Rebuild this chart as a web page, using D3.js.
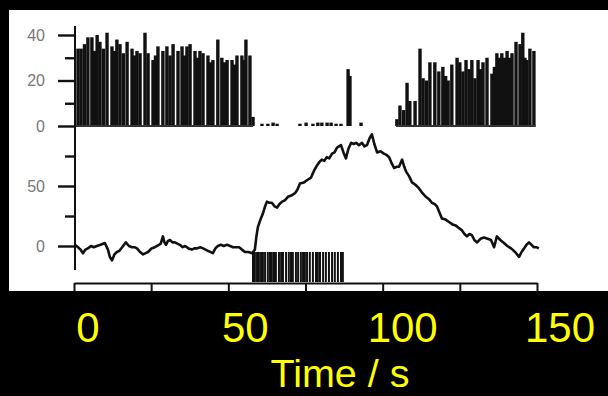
<!DOCTYPE html>
<html><head><meta charset="utf-8">
<script src="https://cdn.jsdelivr.net/npm/d3@7"></script>
<style>html,body{margin:0;padding:0;background:#000;}svg{display:block;}</style>
</head><body>
<script>
// ---- data ----
// top panel: burst bars [time s, height]
const burst1 = [[1.3,34],[2.3,34],[3.4,36],[4.5,39],[5.8,39],[6.7,33],[7.5,40],[8.4,37],[9.5,34],[10.7,41],[12.3,35],[13.1,33],[13.9,38],[14.9,36],[16.0,32],[17.2,37],[18.8,34],[19.6,31],[20.4,33],[21.4,32],[23.0,41],[24.0,32],[25.6,29],[26.4,31],[27.2,35],[28.8,33],[30.1,35],[31.1,31],[32.1,36],[33.7,33],[35.0,35],[35.8,31],[36.6,35],[37.6,36],[39.2,33],[40.0,30],[40.8,33],[41.8,32],[43.4,31],[44.2,28],[45.0,29],[46.6,38],[47.9,30],[48.8,28],[49.6,29],[51.2,29],[52.0,27],[52.8,31],[54.4,31],[55.1,29],[55.7,38],[57.0,31],[58.0,4]];
const burst2 = [[60.9,1],[62.8,1],[64.5,1.5],[65.8,1],[73.2,1],[75.2,1.5],[77.4,1],[79.0,1.5],[80.3,1.5],[82.0,1.5],[83.3,1.5],[84.9,1],[86.5,1],[88.8,25],[89.4,22],[93.0,1.5]];
const burst3 = [[104.6,3],[105.6,9],[106.8,7],[107.9,19],[108.8,11],[110.5,11],[112.1,34],[113.1,21],[114.2,20],[115.3,28],[116.9,28],[118.2,24],[119.5,26],[120.4,22],[121.2,20],[122.4,27],[124.1,30],[125.0,28],[126.0,24],[127.0,29],[128.0,25],[128.9,29],[129.9,21],[130.9,29],[131.7,25],[132.5,28],[133.8,30],[135.4,23],[136.2,26],[137.0,32],[137.8,30],[138.6,32],[139.5,30],[140.3,33],[141.1,30],[141.9,32],[143.2,37],[144.5,36],[145.4,41],[146.1,30],[146.7,29],[147.7,34],[149.0,33]];
// lower panel: trace [time s, value]
const trace = [[0.3,1],[1.3,-1],[2.1,-3],[2.9,-6],[3.7,-3],[4.5,-2],[5.5,0],[6.4,-1],[7.4,0],[8.6,1],[10.0,2.5],[11.0,-3],[11.6,-9],[12.3,-12],[13.1,-7],[13.9,-5],[14.7,-4],[15.6,-1],[16.2,1],[16.8,3],[17.8,0],[18.8,-1],[19.6,-1],[20.4,-2],[21.4,-5],[22.4,-7],[23.2,-6],[24.0,-5],[25.1,-2],[26.2,-1],[27.5,1],[28.1,2],[28.8,8],[29.3,3],[29.8,1],[30.4,4],[31.1,5],[31.9,3],[32.7,3],[33.5,2],[34.3,1],[35.2,-1],[36.0,0],[37.1,-2],[38.2,-3],[39.0,-2],[39.9,-2],[40.9,-1],[41.8,-2],[43.4,-4],[45.0,-6],[45.8,-2],[46.6,0],[47.6,1],[48.5,0],[49.6,1],[50.6,0],[51.5,-1],[52.4,-1],[53.5,-1],[54.4,-3],[55.4,-5],[56.5,-5],[57.7,-6],[58.6,-3],[59.1,8],[59.6,16],[60.4,22],[61.2,27],[61.9,33],[62.5,37],[63.3,36],[64.1,36],[65.0,33],[65.8,32],[66.6,35],[67.4,37],[68.3,38],[69.3,41],[70.4,42],[71.6,44],[72.4,47],[73.2,52],[74.5,53],[75.6,55],[76.8,57],[77.8,63],[78.7,67],[79.5,70],[80.3,72],[81.1,71],[81.9,74],[82.7,73],[83.6,77],[84.4,78],[85.2,82],[86.5,84],[87.3,78],[88.1,73],[88.9,81],[89.8,86],[90.6,85],[91.4,86],[92.3,84],[93.3,86],[94.1,83],[94.9,84],[95.8,90],[96.5,93],[97.3,85],[98.2,78],[99.3,79],[100.4,77],[101.2,76],[102.1,74],[102.9,69],[103.7,65],[104.5,66],[105.3,66],[106.3,72],[107.0,66],[107.6,62],[108.6,58],[109.5,53],[110.6,51],[111.8,48],[112.9,44],[114.0,41],[115.0,39],[116.0,36],[116.8,35],[117.6,33],[118.4,28],[119.2,23],[120.4,22],[121.5,20],[122.6,18],[123.7,17],[124.7,15],[125.7,13],[126.5,10],[127.3,8],[128.1,10],[128.9,9],[129.7,5],[130.6,3],[131.7,6],[132.8,7],[134.0,6],[135.1,5],[136.1,-1],[137.0,8],[138.1,5],[139.3,2.5],[140.4,0],[141.6,-2],[142.9,-5],[144.2,-9],[145.0,-5],[145.8,-2],[146.6,1],[147.4,3],[148.2,1],[149.0,-1],[149.8,-1],[150.6,-2]];
// lower panel: stimulus raster times (s)
const raster = [58.0,58.6,59.3,59.9,60.6,61.2,61.9,62.8,63.5,64.1,64.8,65.4,66.4,67.1,67.7,68.7,69.6,70.3,70.9,71.9,72.6,73.5,74.2,74.8,75.5,76.4,77.4,78.4,79.0,79.7,80.7,81.6,82.6,83.6,84.5,85.5,86.5,87.1];
const topMajor = [0,20,40], topMinor = [10,30];
const botMajor = [0,50], botMinor = [25,75];
const xTicks = [0,25,50,75,100,125,150];
const xLabels = [0,50,100,150];
const xTitle = "Time / s";

// ---- drawing ----
const W=608,H=396;
const svg=d3.select("body").append("svg").attr("width",W).attr("height",H);
svg.append("rect").attr("width",W).attr("height",H).attr("fill","#000");
svg.append("rect").attr("x",9).attr("y",10).attr("width",W-9).attr("height",281).attr("fill","#fff");

const x=d3.scaleLinear().domain([0,150]).range([74,537]);
const yT=d3.scaleLinear().domain([0,40]).range([126,35]);
const yB=d3.scaleLinear().domain([0,50]).range([246,186]);
const xLab=d3.scaleLinear().domain([0,150]).range([88,560]);

const ink="#111";
// spine
svg.append("line").attr("x1",75).attr("x2",75).attr("y1",yT(44)).attr("y2",yB(-20))
  .attr("stroke",ink).attr("stroke-width",2);

function leftAxis(scale,vals,size,labels){
  const g=svg.append("g").attr("transform","translate(75,0)")
    .call(d3.axisLeft(scale).tickValues(vals).tickSize(size).tickFormat(labels?d3.format("d"):""));
  g.select(".domain").remove();
  g.selectAll(".tick line").attr("stroke",ink).attr("stroke-width",2.4);
  g.selectAll(".tick text").attr("fill","#777").attr("font-family","Liberation Sans, Arial, sans-serif")
    .attr("font-size",16).attr("x",-30);
}
leftAxis(yT,topMajor,17,true);
leftAxis(yT,topMinor,10,false);
leftAxis(yB,botMajor,17,true);
leftAxis(yB,botMinor,10,false);

// bars
const bw=3.4;
function bars(data,fill){
  svg.append("g").selectAll("rect").data(data).join("rect")
    .attr("x",d=>x(d[0])-bw/2).attr("width",bw)
    .attr("y",d=>yT(d[1])).attr("height",d=>yT(0)-yT(d[1])).attr("fill",fill);
}
bars(burst1,ink); bars(burst2,ink); bars(burst3,ink);
// baseline marks under bursts
svg.append("line").attr("x1",x(0.5)).attr("x2",x(58)).attr("y1",yT(0)).attr("y2",yT(0)).attr("stroke","#333").attr("stroke-width",2);
svg.append("line").attr("x1",x(104.3)).attr("x2",x(149.6)).attr("y1",yT(0)).attr("y2",yT(0)).attr("stroke","#333").attr("stroke-width",2);

// trace
svg.append("path").datum(trace)
  .attr("d",d3.line().x(d=>x(d[0])).y(d=>yB(d[1])))
  .attr("fill","none").attr("stroke",ink).attr("stroke-width",2.6).attr("stroke-linejoin","round");

// raster
svg.append("g").selectAll("line").data(raster).join("line")
  .attr("x1",d=>x(d)).attr("x2",d=>x(d)).attr("y1",252).attr("y2",282)
  .attr("stroke",ink).attr("stroke-width",2);

// bottom axis
const gx=svg.append("g").attr("transform","translate(0,283)")
  .call(d3.axisBottom(x).tickValues(xTicks).tickSize(9).tickSizeOuter(0).tickFormat(""));
gx.select(".domain").attr("stroke",ink).attr("stroke-width",2);
gx.selectAll(".tick line").attr("stroke",ink).attr("stroke-width",2);

// yellow labels
svg.append("g").selectAll("text").data(xLabels).join("text")
  .attr("x",d=>xLab(d)).attr("y",342).attr("text-anchor","middle")
  .attr("fill","#ffff00").attr("font-family","Liberation Sans, Arial, sans-serif").attr("font-size",42)
  .text(d=>d);
svg.append("text").attr("x",340).attr("y",387).attr("text-anchor","middle")
  .attr("fill","#ffff00").attr("font-family","Liberation Sans, Arial, sans-serif").attr("font-size",39.5)
  .text(xTitle);
</script>
</body></html>
